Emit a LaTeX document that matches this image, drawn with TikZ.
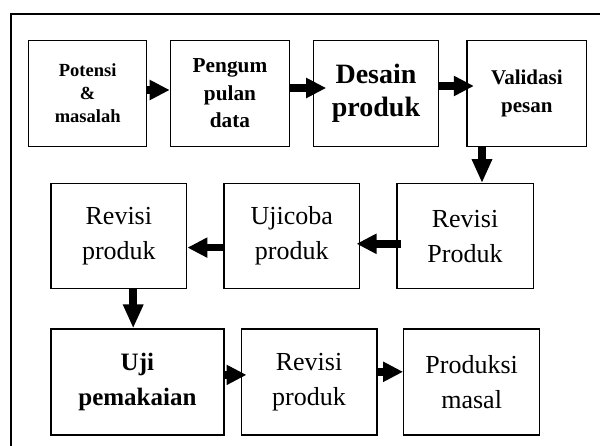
\documentclass[tikz,border=0pt]{standalone}
\usepackage{fontspec}
\setmainfont{Liberation Serif}
\usetikzlibrary{arrows.meta}
\tikzset{
  box/.style={draw, line width=1.2pt, inner sep=0pt, align=center, fill=white},
  arr/.style={line width=7.5pt, -{Triangle[length=20pt,width=19pt]}},
  varr/.style={line width=7.5pt, -{Triangle[length=24pt,width=19pt]}},
}
\begin{document}
\begin{tikzpicture}[x=1pt,y=-1pt]
\useasboundingbox (0,0) rectangle (600,445);
\draw[line width=1.8pt] (11,450) -- (11,14) -- (605,14);
% row 1
\node[box, minimum width=117.9pt, minimum height=106.4pt, font=\bfseries\fontsize{18.5}{23}\selectfont] (b1) at (87.65,93.4) {Potensi\\\&\\masalah};
\node[box, minimum width=119.4pt, minimum height=106.4pt, font=\bfseries\fontsize{21.3}{27.5}\selectfont] (b2) at (230,93.4) {Pengum\\pulan\\data};
\node[box, minimum width=124.4pt, minimum height=106.4pt, font=\bfseries\fontsize{28}{32.5}\selectfont] (b3) at (376,93.4) {Desain\\produk};
\node[box, minimum width=119.8pt, minimum height=106.4pt, font=\bfseries\fontsize{21}{28.7}\selectfont] (b4) at (526.8,93.4) {Validasi\\pesan};
% row 2
\node[box, minimum width=135.9pt, minimum height=104.8pt, font=\fontsize{26}{35}\selectfont] (b5) at (118.85,236.1) {Revisi\\produk};
\node[box, minimum width=135.8pt, minimum height=104.8pt, font=\fontsize{26}{35}\selectfont] (b6) at (291.8,236.1) {Ujicoba\\produk};
\node[box, minimum width=136.2pt, minimum height=104.8pt, font=\fontsize{26}{35}\selectfont] (b7) at (465,236.1) {Revisi\\Produk};
% row 3
\node[box, minimum width=173pt, minimum height=106pt, font=\bfseries\fontsize{25}{35}\selectfont] (b8) at (137.4,382) {Uji\\pemakaian};
\node[box, minimum width=135.9pt, minimum height=106pt, font=\fontsize{26}{35}\selectfont] (b9) at (309.05,382) {Revisi\\produk};
\node[box, minimum width=135.9pt, minimum height=106pt, font=\fontsize{26}{35}\selectfont] (b10) at (471.65,382) {Produksi\\masal};
% arrows
\draw[arr] (b1.east |- 0,90) -- (b2.west |- 0,90);
\draw[arr, shorten >=-13pt] (b2.east |- 0,88) -- (b3.west |- 0,88);
\draw[arr, shorten >=-7.6pt] (b3.east |- 0,86) -- (b4.west |- 0,86);
\draw[varr] (b4.south -| 482,0) -- (b7.north -| 482,0);
\draw[arr, shorten <=-5pt, shorten >=-3.8pt] (b7.west |- 0,243.8) -- (b6.east |- 0,243.8);
\draw[arr] (b6.west |- 0,247.6) -- (b5.east |- 0,247.6);
\draw[varr] (b5.south -| 133.2,0) -- (b8.north -| 133.2,0);
\draw[arr, shorten >=-6pt] (b8.east |- 0,374.9) -- (b9.west |- 0,374.9);
\draw[arr] (b9.east |- 0,371.8) -- (b10.west |- 0,371.8);
\end{tikzpicture}
\end{document}
